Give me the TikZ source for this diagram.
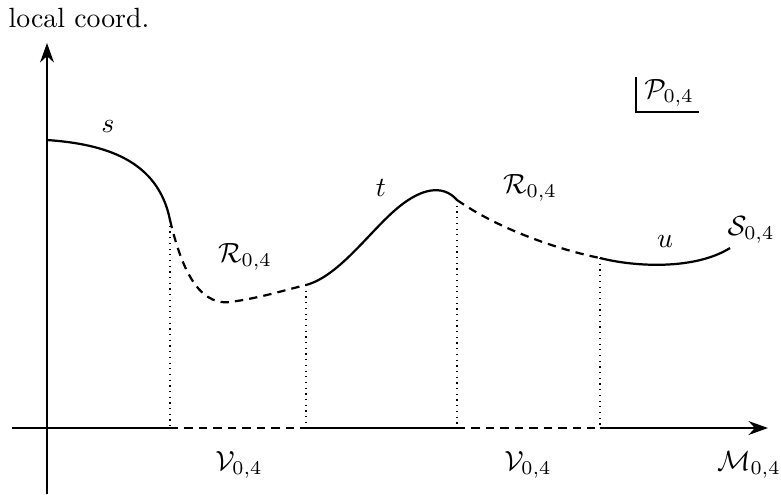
\documentclass[tikz,border=0pt]{standalone}
\usetikzlibrary{arrows.meta}
\begin{document}
\begin{tikzpicture}[x=0.3597pt,y=-0.3597pt,
  curve/.style={line width=0.8pt},
  dashline/.style={line width=0.8pt,dash pattern=on 3pt off 2.2pt},
  guide/.style={line width=0.45pt,dash pattern=on 0.45pt off 1.6pt},
  axis/.style={line width=0.8pt},
  lab/.style={inner sep=0pt}]
\useasboundingbox (0,0) rectangle (781,494);
% key points
\coordinate (O) at (47,428);
\coordinate (yb) at (47,494);
\coordinate (yt) at (47,43);
\coordinate (xl) at (12,428);
\coordinate (xr) at (768,428);
\coordinate (s0) at (47,140);
\coordinate (a) at (170,220);
\coordinate (b) at (306,285);
\coordinate (c) at (457,200);
\coordinate (d) at (600,258);
\coordinate (e) at (730,248);
\coordinate (a0) at (170,428);
\coordinate (b0) at (306,428);
\coordinate (c0) at (457,428);
\coordinate (d0) at (600,428);
% axes
\draw[axis,-{Stealth[length=7pt,width=5pt]}] (yb) -- (yt);
\draw[axis] (xl) -- (a0);
\draw[dashline] (a0) -- (b0);
\draw[axis] (b0) -- (c0);
\draw[dashline] (c0) -- (d0);
\draw[axis,-{Stealth[length=7pt,width=5pt]}] (d0) -- (xr);
% curve
\draw[curve] (s0) .. controls (105,144) and (158,160) .. (a);
\draw[dashline] (a) .. controls (180,262) and (196,306) .. (230,302) .. controls (260,298) and (285,290) .. (b);
\draw[curve] (b) .. controls (340,276) and (372,228) .. (400,206) .. controls (420,190) and (442,183) .. (c);
\draw[dashline] (c) .. controls (500,230) and (560,250) .. (d);
\draw[curve] (d) .. controls (635,267) and (695,270) .. (e);
% guides
\draw[guide] (a) -- (a0);
\draw[guide] (b) -- (b0);
\draw[guide] (c) -- (c0);
\draw[guide] (d) -- (d0);
% P frame
\coordinate (p1) at (636,77);
\coordinate (p2) at (636,112);
\coordinate (p3) at (699,112);
\draw[line width=0.6pt] (p1) -- (p2) -- (p3);
% labels
\node[lab] (lc) at (79,18) {local coord.};
\node[lab] (ls) at (108,126) {$s$};
\node[lab] (lr1) at (245,257) {$\mathcal{R}_{0,4}$};
\node[lab] (lt) at (381,188) {$t$};
\node[lab] (lr2) at (530,188) {$\mathcal{R}_{0,4}$};
\node[lab] (lu) at (665,241) {$u$};
\node[lab] (lS) at (751,230) {$\mathcal{S}_{0,4}$};
\node[lab] (lP) at (669,93) {$\mathcal{P}_{0,4}$};
\node[lab] (lV1) at (239,465) {$\mathcal{V}_{0,4}$};
\node[lab] (lV2) at (528,465) {$\mathcal{V}_{0,4}$};
\node[lab] (lM) at (749,465) {$\mathcal{M}_{0,4}$};
\end{tikzpicture}
\end{document}
